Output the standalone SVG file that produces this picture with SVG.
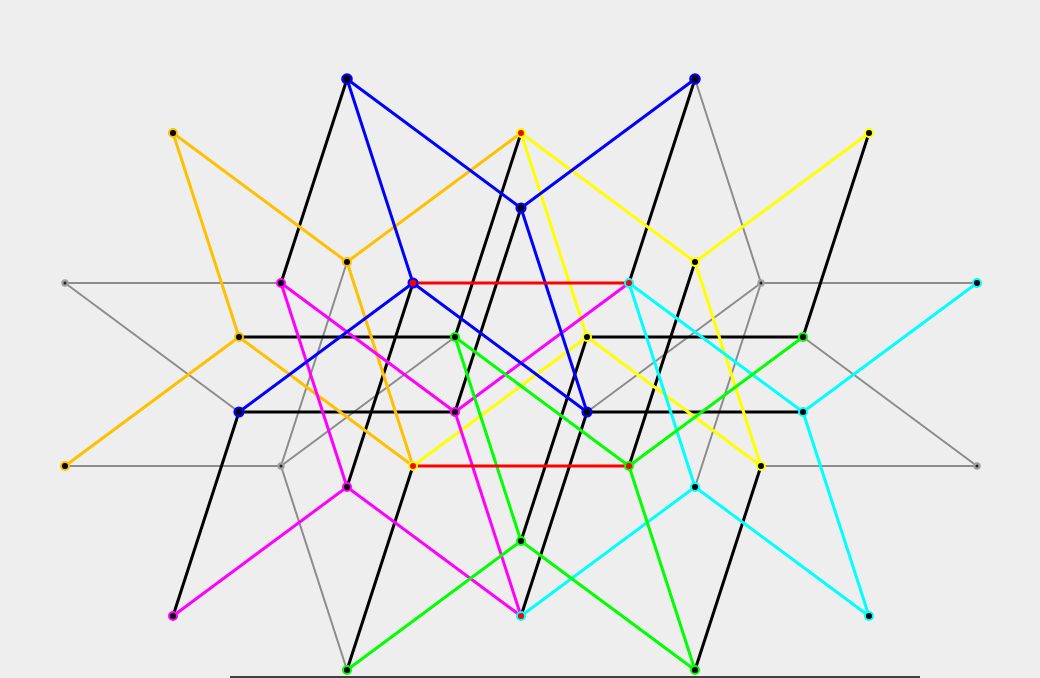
<svg xmlns="http://www.w3.org/2000/svg" width="1040" height="678" viewBox="0 0 1040 678">
<style>
line{stroke-width:3;stroke-linecap:round}
.g{stroke:#8c8c8c;stroke-width:2}
.k{stroke:#000}
.b{stroke:#0000ff}
.r{stroke:#ff0000}
.o{stroke:#ffc000}
.y{stroke:#ffff00}
.m{stroke:#ff00ff}
.c{stroke:#00ffff}
.n{stroke:#00ff00}
circle{stroke-width:2}
.nb{fill:#000;stroke:#0000ff;stroke-width:2.4}
.no{fill:#000;stroke:#ffc000}
.ny{fill:#000;stroke:#ffff00}
.nm{fill:#000;stroke:#ff00ff}
.nc{fill:#000;stroke:#00ffff}
.nn{fill:#000;stroke:#00ff00}
.ng{fill:#222;stroke:#a0a0a0;stroke-width:2.2}
.rb{fill:#ff0000;stroke:#0000ff;stroke-width:2.2}
.rc{fill:#ff0000;stroke:#00ffff}
.ry{fill:#ff0000;stroke:#ffff00}
.rn{fill:#ff0000;stroke:#00ff00}
</style>
<rect width="1040" height="678" fill="#eeeeee"/>
<rect x="230" y="676" width="690" height="2" fill="#404040"/>
<g id="connectors">
<line class="g" x1="65" y1="283" x2="281" y2="283"/>
<line class="g" x1="65" y1="283" x2="239" y2="412"/>
<line class="g" x1="65" y1="466" x2="281" y2="466"/>
<line class="g" x1="281" y1="466" x2="347" y2="262"/>
<line class="g" x1="281" y1="466" x2="455" y2="337"/>
<line class="g" x1="281" y1="466" x2="347" y2="670"/>
<line class="g" x1="695" y1="79" x2="761" y2="283"/>
<line class="g" x1="761" y1="283" x2="977" y2="283"/>
<line class="g" x1="761" y1="283" x2="587" y2="412"/>
<line class="g" x1="761" y1="283" x2="695" y2="487"/>
<line class="g" x1="803" y1="337" x2="977" y2="466"/>
<line class="g" x1="761" y1="466" x2="977" y2="466"/>
<line class="k" x1="347" y1="79" x2="281" y2="283"/>
<line class="k" x1="239" y1="412" x2="173" y2="616"/>
<line class="k" x1="413" y1="283" x2="347" y2="487"/>
<line class="k" x1="413" y1="466" x2="347" y2="670"/>
<line class="k" x1="521" y1="133" x2="455" y2="337"/>
<line class="k" x1="521" y1="208" x2="455" y2="412"/>
<line class="k" x1="587" y1="337" x2="521" y2="541"/>
<line class="k" x1="587" y1="412" x2="521" y2="616"/>
<line class="k" x1="695" y1="79" x2="629" y2="283"/>
<line class="k" x1="695" y1="262" x2="629" y2="466"/>
<line class="k" x1="761" y1="466" x2="695" y2="670"/>
<line class="k" x1="869" y1="133" x2="803" y2="337"/>
<line class="k" x1="239" y1="337" x2="455" y2="337"/>
<line class="k" x1="239" y1="412" x2="455" y2="412"/>
<line class="k" x1="587" y1="337" x2="803" y2="337"/>
<line class="k" x1="587" y1="412" x2="803" y2="412"/>
<line class="o" x1="173" y1="133" x2="347" y2="262"/>
<line class="o" x1="173" y1="133" x2="239" y2="337"/>
<line class="o" x1="521" y1="133" x2="347" y2="262"/>
<line class="o" x1="347" y1="262" x2="413" y2="466"/>
<line class="o" x1="239" y1="337" x2="65" y2="466"/>
<line class="o" x1="239" y1="337" x2="413" y2="466"/>
<line class="y" x1="521" y1="133" x2="695" y2="262"/>
<line class="y" x1="521" y1="133" x2="587" y2="337"/>
<line class="y" x1="695" y1="262" x2="869" y2="133"/>
<line class="y" x1="695" y1="262" x2="761" y2="466"/>
<line class="y" x1="587" y1="337" x2="413" y2="466"/>
<line class="y" x1="587" y1="337" x2="761" y2="466"/>
<line class="m" x1="281" y1="283" x2="455" y2="412"/>
<line class="m" x1="455" y1="412" x2="629" y2="283"/>
<line class="m" x1="281" y1="283" x2="347" y2="487"/>
<line class="m" x1="455" y1="412" x2="521" y2="616"/>
<line class="m" x1="347" y1="487" x2="173" y2="616"/>
<line class="m" x1="347" y1="487" x2="521" y2="616"/>
<line class="c" x1="629" y1="283" x2="803" y2="412"/>
<line class="c" x1="629" y1="283" x2="695" y2="487"/>
<line class="c" x1="803" y1="412" x2="977" y2="283"/>
<line class="c" x1="803" y1="412" x2="869" y2="616"/>
<line class="c" x1="695" y1="487" x2="521" y2="616"/>
<line class="c" x1="695" y1="487" x2="869" y2="616"/>
<line class="n" x1="455" y1="337" x2="629" y2="466"/>
<line class="n" x1="455" y1="337" x2="521" y2="541"/>
<line class="n" x1="629" y1="466" x2="803" y2="337"/>
<line class="n" x1="629" y1="466" x2="695" y2="670"/>
<line class="n" x1="521" y1="541" x2="347" y2="670"/>
<line class="n" x1="521" y1="541" x2="695" y2="670"/>
<line class="b" x1="347" y1="79" x2="413" y2="283"/>
<line class="b" x1="347" y1="79" x2="521" y2="208"/>
<line class="b" x1="521" y1="208" x2="695" y2="79"/>
<line class="b" x1="521" y1="208" x2="587" y2="412"/>
<line class="b" x1="413" y1="283" x2="239" y2="412"/>
<line class="b" x1="413" y1="283" x2="587" y2="412"/>
<line class="r" x1="413" y1="283" x2="629" y2="283"/>
<line class="r" x1="413" y1="466" x2="629" y2="466"/>
</g>
<g id="nA"><circle class="nb" cx="347" cy="79" r="4.6"/></g>
<g id="nB"><circle class="nb" cx="695" cy="79" r="4.6"/></g>
<g id="nC"><circle class="no" cx="173" cy="133" r="4"/></g>
<g id="nD"><circle class="ry" cx="521" cy="133" r="4"/></g>
<g id="nE"><circle class="ny" cx="869" cy="133" r="4"/></g>
<g id="nF"><circle class="nb" cx="521" cy="208" r="4.4"/></g>
<g id="nG"><circle class="no" cx="347" cy="262" r="4"/></g>
<g id="nH"><circle class="ny" cx="695" cy="262" r="4"/></g>
<g id="nI"><circle class="ng" cx="65" cy="283" r="2.6"/></g>
<g id="nJ"><circle class="nm" cx="281" cy="283" r="4"/></g>
<g id="nK"><circle class="rb" cx="413" cy="283" r="4.4"/></g>
<g id="nL"><circle class="rc" cx="629" cy="283" r="4"/></g>
<g id="nM"><circle class="ng" cx="761" cy="283" r="2.6"/></g>
<g id="nN"><circle class="nc" cx="977" cy="283" r="4"/></g>
<g id="nO"><circle class="no" cx="239" cy="337" r="4"/></g>
<g id="nP"><circle class="nn" cx="455" cy="337" r="4"/></g>
<g id="nQ"><circle class="ny" cx="587" cy="337" r="4"/></g>
<g id="nR"><circle class="nn" cx="803" cy="337" r="4"/></g>
<g id="nS"><circle class="nb" cx="239" cy="412" r="4.4"/></g>
<g id="nT"><circle class="nm" cx="455" cy="412" r="4"/></g>
<g id="nU"><circle class="nb" cx="587" cy="412" r="4.4"/></g>
<g id="nV"><circle class="nc" cx="803" cy="412" r="4"/></g>
<g id="nW"><circle class="no" cx="65" cy="466" r="4"/></g>
<g id="nX"><circle class="ng" cx="281" cy="466" r="2.6"/></g>
<g id="nY"><circle class="ry" cx="413" cy="466" r="4"/></g>
<g id="nZ"><circle class="rn" cx="629" cy="466" r="4"/></g>
<g id="nAA"><circle class="ny" cx="761" cy="466" r="4"/></g>
<g id="nAB"><circle class="ng" cx="977" cy="466" r="2.6"/></g>
<g id="nAC"><circle class="nm" cx="347" cy="487" r="4"/></g>
<g id="nAD"><circle class="nc" cx="695" cy="487" r="4"/></g>
<g id="nAE"><circle class="nn" cx="521" cy="541" r="4"/></g>
<g id="nAF"><circle class="nm" cx="173" cy="616" r="4"/></g>
<g id="nAG"><circle class="rc" cx="521" cy="616" r="4"/></g>
<g id="nAH"><circle class="nc" cx="869" cy="616" r="4"/></g>
<g id="nAI"><circle class="nn" cx="347" cy="670" r="4"/></g>
<g id="nAJ"><circle class="nn" cx="695" cy="670" r="4"/></g>
</svg>
